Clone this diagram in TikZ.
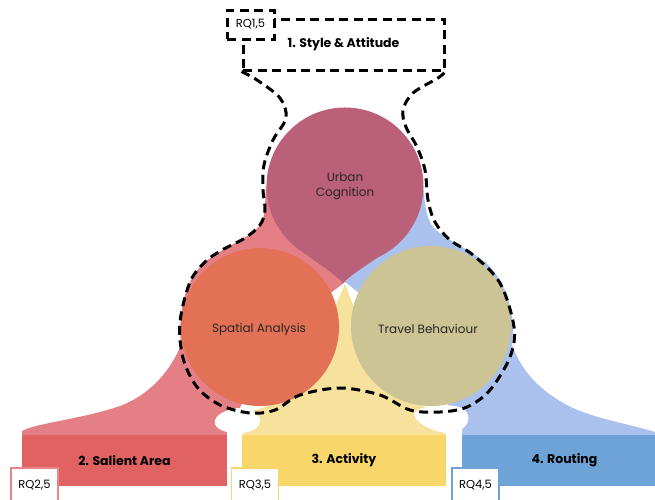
\documentclass[tikz,border=0pt]{standalone}
\usepackage{fontspec}
\setmainfont{Poppins}
\definecolor{ucol}{HTML}{BA6079}
\definecolor{sacol}{HTML}{E37155}
\definecolor{tbcol}{HTML}{CCC494}
\definecolor{pinkfl}{HTML}{E47F85}
\definecolor{bluefl}{HTML}{A9C1EC}
\definecolor{yelfl}{HTML}{F6E19D}
\definecolor{redbar}{HTML}{E06262}
\definecolor{yelbar}{HTML}{F9D66A}
\definecolor{bluebar}{HTML}{6EA3D8}
\definecolor{rqred}{HTML}{E98585}
\begin{document}
\begin{tikzpicture}[x=1pt, y=-1pt,
    outline/.style={line width=3pt, dash pattern=on 9pt off 5.5pt},
    barbox/.style={minimum width=#1, minimum height=51pt, inner sep=0pt, font=\bfseries\fontsize{12.5}{14}\selectfont},
    rqbox/.style={draw=#1, line width=1.6pt, fill=white, minimum width=47pt, minimum height=34pt, inner sep=0pt, font=\fontsize{11.5}{13}\selectfont},
    topic/.style={align=center, font=\fontsize{12}{15.5}\selectfont, text=black!85}]
    \useasboundingbox (0,0) rectangle (655,499);
    % coloured backgrounds
    \fill[pinkfl] (22,437) -- (22,431) .. controls (35,423) and (90,418) .. (125,404)
        .. controls (150,393) and (170,372) .. (181,345) .. controls (178,310) and (185,280) .. (205,262)
        .. controls (225,246) and (255,236) .. (262,222) .. controls (266,212) and (265,195) .. (266,186)
        -- (345,107) -- (345,282) -- (270,340) -- (227,437) -- cycle;
    \fill[bluefl] (655,437) -- (655,432) .. controls (630,424) and (590,418) .. (565,404)
        .. controls (540,390) and (522,372) .. (512,345) .. controls (516,310) and (505,280) .. (485,262)
        .. controls (465,246) and (436,236) .. (430,222) .. controls (425,212) and (424,195) .. (423,186)
        -- (345,107) -- (345,282) -- (420,340) -- (462,437) -- cycle;
    \fill[yelfl] (345,284) -- (338,300) -- (300,395) -- (250,412) -- (242,437)
        -- (446,437) -- (440,412) -- (390,395) -- (351,300) -- cycle;
    % white gaps between the bars
    \fill[white] (227,437) -- (227,432) .. controls (218,430) and (213,425) .. (215,420)
        .. controls (218,412) and (232,408) .. (240,408) .. controls (250,408) and (261,414) .. (260,422)
        .. controls (259,429) and (250,432) .. (242,433) -- (242,437) -- cycle;
    \fill[white] (446,437) -- (446,433) .. controls (430,431) and (414,422) .. (414,413)
        .. controls (420,405) and (450,403) .. (462,408) .. controls (470,412) and (471,423) .. (462,429)
        -- (462,437) -- cycle;
    % the three topics
    \fill[ucol] (345,186) circle[radius=78.5pt];
    \fill[ucol] (300,250) .. controls (320,265) and (336,275) .. (343,283)
        .. controls (352,274) and (368,264) .. (389,250) -- cycle;
    \fill[sacol] (260,327) circle[radius=79pt];
    \fill[tbcol] (431,326) circle[radius=80pt];
    \node[topic] (uc) at (345,186) {Urban\\Cognition};
    \node[topic] (sa) at (259,329) {Spatial Analysis};
    \node[topic] (tb) at (428,329) {Travel Behaviour};
    % style & attitude
    \node[draw, outline, minimum width=201pt, minimum height=51pt, inner sep=0pt,
        font=\bfseries\fontsize{12.5}{14}\selectfont] (style) at (343.5,44.5) {1. Style \& Attitude};
    \node[draw, outline, fill=white, minimum width=47pt, minimum height=29pt, inner sep=0pt,
        font=\fontsize{11.5}{13}\selectfont] (rq1) at (250.5,24.5) {RQ1,5};
    \draw[outline] plot[smooth, tension=0.55] coordinates {(style.south west) (257,80) (280,98)
        (286,118) (273,140) (264,165) (263,190) (265,210) (260,225) (245,238) (222,250) (205,262)
        (190,282) (180,322) (183,358) (197,387) (220,405) (250,413) (275,410) (300,395) (340,388)
        (380,395) (410,410) (440,412) (467,407) (490,390) (510,357) (514,327) (500,283) (473,255)
        (450,240) (435,222) (428,200) (425,170) (417,147) (406,127) (403,110) (413,93) (438,78)
        (style.south east)};
    % bars
    \node[barbox=205pt, fill=redbar] (salient) at (124.5,460.5) {2. Salient Area};
    \node[barbox=204pt, fill=yelbar] (activity) at (344,460.5) {3. Activity};
    \node[barbox=205pt, fill=bluebar] (routing) at (564.5,460.5) {4. Routing};
    \node[rqbox=rqred] (rq2) at (34.5,485) {RQ2,5};
    \node[rqbox=yelbar] (rq3) at (255,485) {RQ3,5};
    \node[rqbox=bluebar] (rq4) at (475.5,485) {RQ4,5};
\end{tikzpicture}
\end{document}
